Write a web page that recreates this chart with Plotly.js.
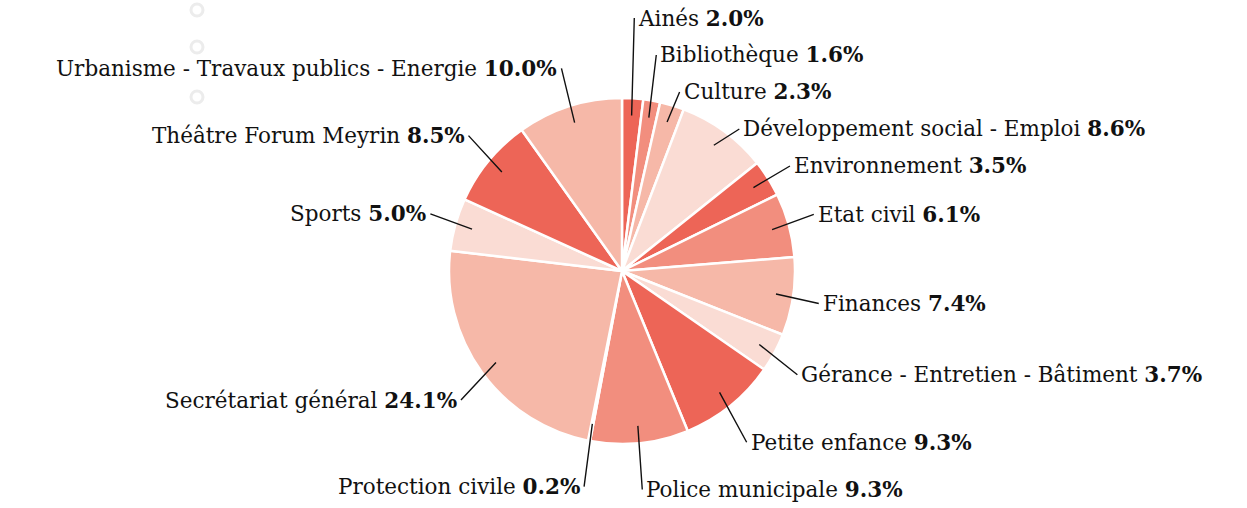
<!DOCTYPE html>
<html><head><meta charset="utf-8">
<script src="https://cdn.plot.ly/plotly-3.0.1.min.js"></script>
<style>html,body{margin:0;padding:0;background:#fff;}</style>
</head><body>
<div id="chart" style="width:1247px;height:508px"></div>
<script>
// ---- data ----
const categories = ["Ainés","Bibliothèque","Culture","Développement social - Emploi","Environnement","Etat civil","Finances","Gérance - Entretien - Bâtiment","Petite enfance","Police municipale","Protection civile","Secrétariat général","Sports","Théâtre Forum Meyrin","Urbanisme - Travaux publics - Energie"];
const values = [2.0,1.6,2.3,8.6,3.5,6.1,7.4,3.7,9.3,9.3,0.2,24.1,5.0,8.5,10.0];
const percentLabels = ["2.0%","1.6%","2.3%","8.6%","3.5%","6.1%","7.4%","3.7%","9.3%","9.3%","0.2%","24.1%","5.0%","8.5%","10.0%"];
const shadeIndex = [0,1,2,3,0,1,2,3,0,1,2,2,3,0,2];

// ---- styling ----
const palette = ["#ED6557","#F28E7E","#F6B8A8","#FADCD4"];
const W = 1247, H = 508, cx = 622, cy = 271, r = 173;
const FONT = "DejaVu Serif";

const total = values.reduce((a,b)=>a+b,0);
let cum = 0;
const items = values.map((v,i)=>{
  const th = 2*Math.PI*(cum + v/2)/total; cum += v;
  const s = Math.sin(th), c = Math.cos(th);
  const ky = c >= 0 ? 1.23 : 1.27;
  return {i, side: s >= 0 ? 1 : -1,
    hx: cx + 0.9*r*s, hy: cy - 0.9*r*c,
    tx: cx + 1.15*r*s, ty: cy - ky*r*c};
});
// simple vertical collision relaxation per side
[1,-1].forEach(side=>{
  const g = items.filter(d=>d.side===side).sort((a,b)=>a.ty-b.ty);
  for (let it=0; it<300; it++){
    for (let j=1;j<g.length;j++){
      const gap = g[j].ty - g[j-1].ty;
      if (gap < 37){ const sh=(37-gap)/2; g[j-1].ty-=sh; g[j].ty+=sh; }
    }
    g.forEach(d=>{ d.ty = Math.max(18, Math.min(H-12, d.ty)); });
  }
});

const annotations = items.map(d=>({
  xref:'paper', yref:'paper', x: d.hx/W, y: 1 - d.hy/H,
  ax: d.tx - d.hx, ay: d.ty - d.hy,
  text: categories[d.i] + ' <b>' + percentLabels[d.i] + '</b>',
  showarrow: true, arrowhead: 0, arrowwidth: 1.4, arrowcolor: '#111',
  xanchor: d.side===1 ? 'left' : 'right', yanchor: 'middle',
  borderpad: 3,
  font: {family: FONT, size: 21.5, color: '#111111'}
}));

const circles = [10,47,97].map(py=>({
  type:'circle', xref:'paper', yref:'paper', layer:'below',
  x0:(197-6)/W, x1:(197+6)/W, y0:1-(py+6)/H, y1:1-(py-6)/H,
  line:{color:'#ececec', width:3}
}));

Plotly.newPlot('chart', [{
  type:'pie', labels: categories, values: values,
  sort:false, direction:'clockwise', rotation:0,
  marker:{colors: shadeIndex.map(k=>palette[k]), line:{color:'#ffffff', width:2.5}},
  textinfo:'none', hoverinfo:'none', showlegend:false,
  domain:{x:[(cx-r)/W,(cx+r)/W], y:[1-(cy+r)/H, 1-(cy-r)/H]}
}], {
  width: W, height: H, margin:{l:0,r:0,t:0,b:0},
  paper_bgcolor:'#ffffff', plot_bgcolor:'#ffffff',
  showlegend:false, annotations: annotations, shapes: circles,
  font:{family: FONT}
}, {staticPlot:true, displayModeBar:false});
</script>
</body></html>
